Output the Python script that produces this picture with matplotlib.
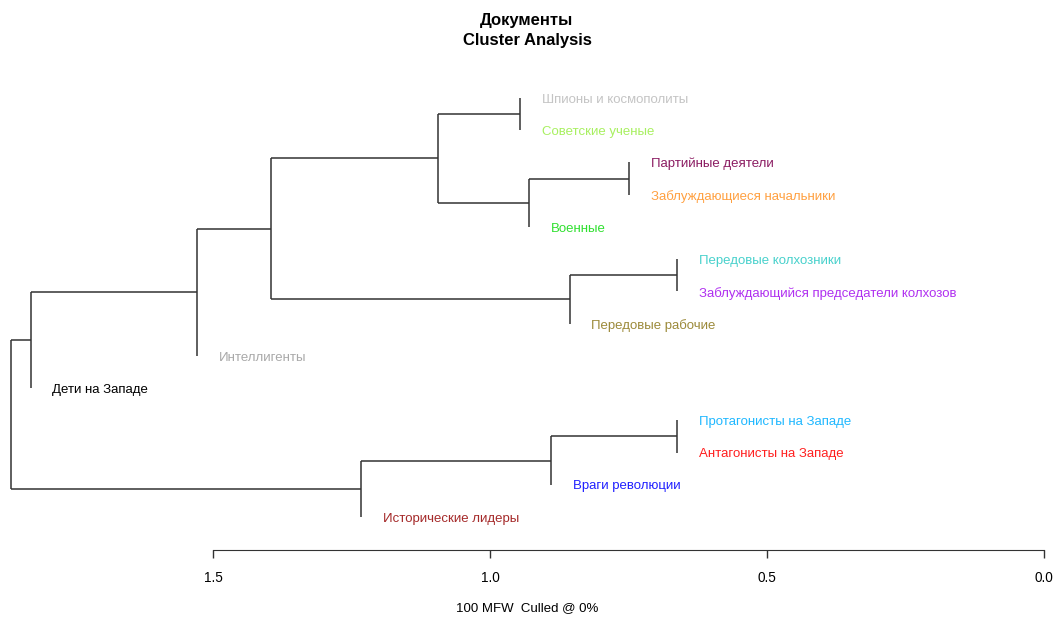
import matplotlib
matplotlib.use("Agg")
import matplotlib.pyplot as plt

plt.rcParams["font.family"] = ["Liberation Sans", "DejaVu Sans"]

# ---------------- data ----------------
title_lines = ["Документы", "Cluster Analysis"]
x_label = "100 MFW  Culled @ 0%"
axis_ticks = [1.5, 1.0, 0.5, 0.0]

leaf_labels = [
    "Шпионы и космополиты",
    "Советские ученые",
    "Партийные деятели",
    "Заблуждающиеся начальники",
    "Военные",
    "Передовые колхозники",
    "Заблуждающийся председатели колхозов",
    "Передовые рабочие",
    "Интеллигенты",
    "Дети на Западе",
    "Протагонисты на Западе",
    "Антагонисты на Западе",
    "Враги революции",
    "Исторические лидеры",
]
leaf_colors = [
    "#c4c4c4", "#a8f060", "#8b1c62", "#ffa040", "#30e030",
    "#48d1cc", "#b030f0", "#9c8a3a", "#a9a9a9", "#000000",
    "#20b8ff", "#ff2020", "#2020ff", "#a52a2a",
]

# merges: (node name, child 1, child 2, height)
merge_names = ["E", "G", "F", "D", "I", "H", "C", "B", "A", "L", "K", "J", "root"]
merge_left = ["Шпионы и космополиты", "Партийные деятели", "G", "E",
              "Передовые колхозники", "I", "D", "C", "B",
              "Протагонисты на Западе", "L", "K", "A"]
merge_right = ["Советские ученые", "Заблуждающиеся начальники", "Военные", "F",
               "Заблуждающийся председатели колхозов", "Передовые рабочие", "H",
               "Интеллигенты", "Дети на Западе",
               "Антагонисты на Западе", "Враги революции", "Исторические лидеры", "J"]
merge_heights = [0.946, 0.749, 0.930, 1.094, 0.662, 0.856, 1.395, 1.529, 1.829,
                 0.662, 0.890, 1.233, 1.865]

# ---------------- layout ----------------
W, H = 1059, 617
fig = plt.figure(figsize=(W / 100, H / 100), dpi=100)

x_left_px, x_right_px = 11, 1044
y_top_px, y_bot_px = 98, 517
ax = fig.add_axes([x_left_px / W, 1 - y_bot_px / H,
                   (x_right_px - x_left_px) / W, (y_bot_px - y_top_px) / H])
xmax = max(merge_heights)
ax.set_xlim(xmax, 0)
ax.set_ylim(len(leaf_labels) - 1, 0)
ax.axis("off")

ypos = {lab: i for i, lab in enumerate(leaf_labels)}
xpos = {lab: None for lab in leaf_labels}
parent_h = {}
line_kw = dict(color="#333333", lw=1.1, clip_on=False, solid_capstyle="butt")

for name, a, b, h in zip(merge_names, merge_left, merge_right, merge_heights):
    ya, yb = ypos[a], ypos[b]
    ypos[name] = (ya + yb) / 2
    xpos[name] = h
    ax.plot([h, h], [ya, yb], **line_kw)
    for c in (a, b):
        parent_h[c] = h
        if xpos.get(c) is not None:
            ax.plot([h, xpos[c]], [ypos[c], ypos[c]], **line_kw)

for lab, col in zip(leaf_labels, leaf_colors):
    ax.annotate(lab, xy=(parent_h[lab], ypos[lab]), xytext=(15.5, -1.2),
                textcoords="offset points", ha="left", va="center",
                color=col, fontsize=9.5, annotation_clip=False)

# bottom axis
ax2 = fig.add_axes([x_left_px / W, 1 - 550 / H, (x_right_px - x_left_px) / W, 0.0001])
ax2.set_xlim(xmax, 0)
for s in ("left", "right", "top"):
    ax2.spines[s].set_visible(False)
ax2.spines["bottom"].set_bounds(min(axis_ticks), max(axis_ticks))
ax2.spines["bottom"].set_color("#333333")
ax2.set_yticks([])
ax2.set_xticks(axis_ticks)
ax2.set_xticklabels([f"{t:.1f}" for t in axis_ticks])
ax2.tick_params(axis="x", length=6, width=1, color="#333333", pad=9, labelsize=9.8)

cx = 527 / W
fig.text(cx, 1 - 608 / H, x_label, ha="center", va="center", fontsize=9.5)
fig.text(cx, 1 - 21 / H, title_lines[0], ha="center", va="center",
         fontsize=12, fontweight="bold")
fig.text(cx, 1 - 41 / H, title_lines[1], ha="center", va="center",
         fontsize=12, fontweight="bold")

fig.savefig("out.png", dpi=100, facecolor="white")
